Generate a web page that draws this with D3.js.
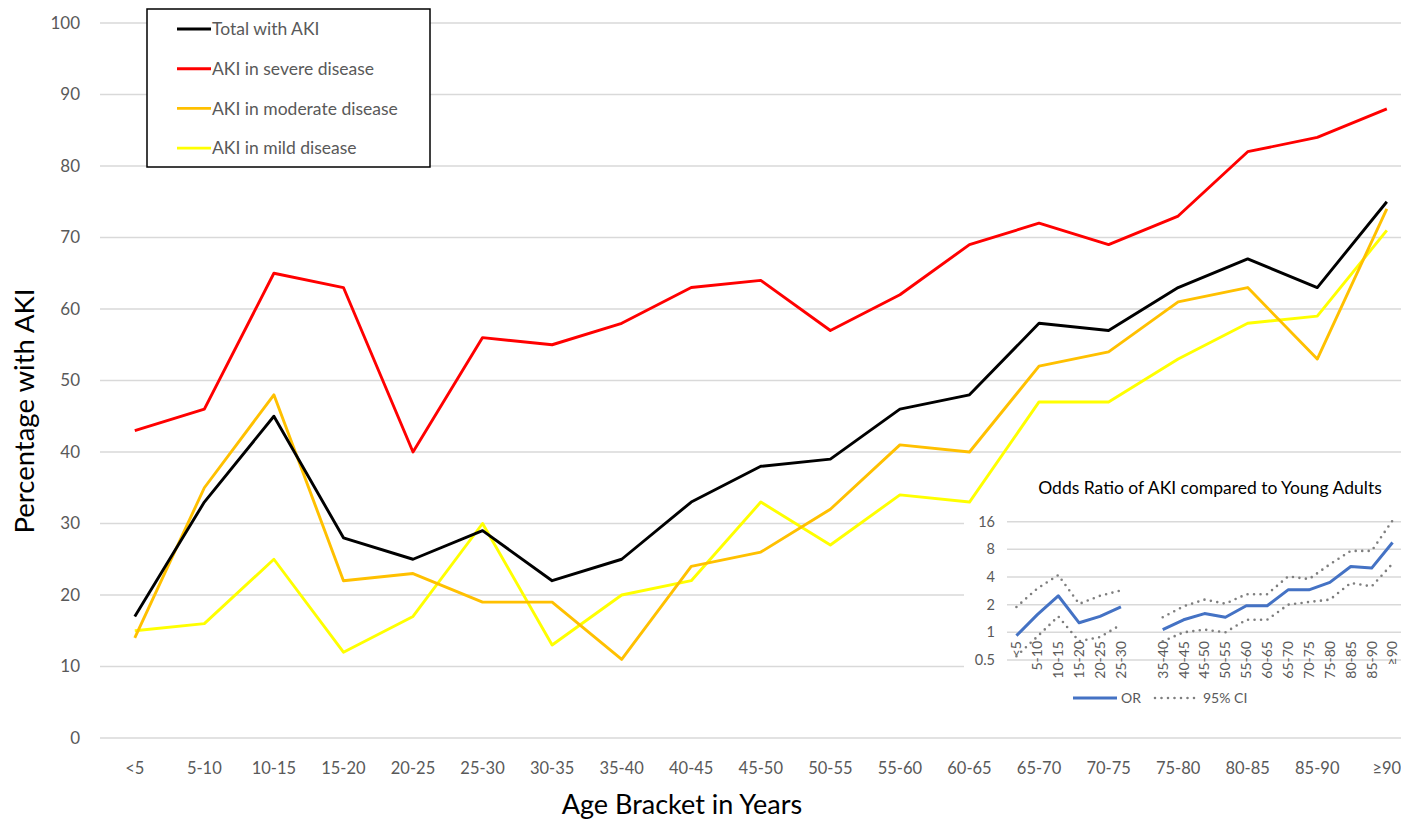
<!DOCTYPE html>
<html>
<head>
<meta charset="utf-8">
<script src="https://cdn.jsdelivr.net/npm/d3@7"></script>
<style>
  body { margin: 0; background: white; }
  text { font-family: Lato, "Open Sans", sans-serif; }
</style>
</head>
<body>
<svg id="chart" width="1401" height="822"></svg>
<script>
// age brackets, shared by both charts
const ages = ['<5', '5-10', '10-15', '15-20', '20-25', '25-30', '30-35', '35-40', '40-45', '45-50',
    '50-55', '55-60', '60-65', '65-70', '70-75', '75-80', '80-85', '85-90', '≥90']

const totalAki = [17, 33, 45, 28, 25, 29, 22, 25, 33, 38, 39, 46, 48, 58, 57, 63, 67, 63, 75]
const severeAki = [43, 46, 65, 63, 40, 56, 55, 58, 63, 64, 57, 62, 69, 72, 69, 73, 82, 84, 88]
const moderateAki = [14, 35, 48, 22, 23, 19, 19, 11, 24, 26, 32, 41, 40, 52, 54, 61, 63, 53, 74]
const mildAki = [15, 16, 25, 12, 17, 30, 13, 20, 22, 33, 27, 34, 33, 47, 47, 53, 58, 59, 71]

const yTicks = [0, 10, 20, 30, 40, 50, 60, 70, 80, 90, 100]

// odds ratio inset (30-35 is the reference group, so no value)
const oddsRatio = [0.92, 1.56, 2.5, 1.27, 1.49, 1.89, null, 1.07, 1.37, 1.6, 1.46, 1.95, 1.95, 2.9, 2.9, 3.5, 5.2, 5.0, 9.5]
const ciUpper = [1.89, 3.0, 4.2, 2.04, 2.5, 2.86, null, 1.46, 1.92, 2.27, 2.05, 2.6, 2.6, 4.06, 3.8, 5.5, 7.7, 7.7, 16.5]
const ciLower = [0.55, 0.9, 1.49, 0.8, 0.89, 1.21, null, 0.8, 1.0, 1.07, 1.0, 1.37, 1.37, 2.0, 2.14, 2.27, 3.45, 3.16, 5.6]
const orTicks = [0.5, 1, 2, 4, 8, 16]

const series = [
    {name: 'Total with AKI', values: totalAki, color: '#000000'},
    {name: 'AKI in severe disease', values: severeAki, color: '#FF0000'},
    {name: 'AKI in moderate disease', values: moderateAki, color: '#FFC000'},
    {name: 'AKI in mild disease', values: mildAki, color: '#FFFF00'},
]

const svg = d3.select('#chart')

const x = d3.scaleBand().domain(ages).range([100, 1421.6])
const y = d3.scaleLinear().domain([0, 100]).range([738, 23])

// gridlines + y labels
svg.append('g')
    .selectAll('line')
    .data(yTicks)
    .enter()
    .append('line')
    .attr('x1', 100)
    .attr('x2', 1401)
    .attr('y1', d => y(d))
    .attr('y2', d => y(d))
    .attr('stroke', '#d9d9d9')
    .attr('stroke-width', 1.5)

svg.append('g')
    .selectAll('text')
    .data(yTicks)
    .enter()
    .append('text')
    .text(d => d)
    .attr('x', 80)
    .attr('y', d => y(d))
    .attr('dy', '0.35em')
    .attr('text-anchor', 'end')
    .attr('font-size', 17)
    .attr('fill', '#595959')

svg.append('g')
    .selectAll('text')
    .data(ages)
    .enter()
    .append('text')
    .text(d => d)
    .attr('x', d => x(d) + x.bandwidth() / 2)
    .attr('y', 768)
    .attr('dy', '0.35em')
    .attr('text-anchor', 'middle')
    .attr('font-size', 16.5)
    .attr('fill', '#595959')

svg.append('text')
    .text('Age Bracket in Years')
    .attr('x', 682)
    .attr('y', 805)
    .attr('dy', '0.35em')
    .attr('text-anchor', 'middle')
    .attr('font-size', 27)
    .attr('fill', '#000')

svg.append('text')
    .text('Percentage with AKI')
    .attr('transform', 'translate(24 411) rotate(-90)')
    .attr('dy', '0.35em')
    .attr('text-anchor', 'middle')
    .attr('font-size', 27.5)
    .attr('fill', '#000')

const line = d3.line()
    .x((d, i) => x(ages[i]) + x.bandwidth() / 2)
    .y(d => y(d))

// draw mild first so black ends up on top like the original
series.slice().reverse().forEach(s => {
    svg.append('path')
        .attr('d', line(s.values))
        .attr('fill', 'none')
        .attr('stroke', s.color)
        .attr('stroke-width', 2.9)
        .attr('stroke-linejoin', 'round')
})

// legend
svg.append('rect')
    .attr('x', 147)
    .attr('y', 9)
    .attr('width', 283)
    .attr('height', 158)
    .attr('fill', 'white')
    .attr('stroke', 'black')
    .attr('stroke-width', 1.5)

series.forEach((s, i) => {
    const ly = 29 + i * 39.7
    svg.append('line')
        .attr('x1', 177)
        .attr('x2', 211)
        .attr('y1', ly)
        .attr('y2', ly)
        .attr('stroke', s.color)
        .attr('stroke-width', 2.9)
    svg.append('text')
        .text(s.name)
        .attr('x', 212)
        .attr('y', ly)
        .attr('dy', '0.35em')
        .attr('font-size', 17.5)
        .attr('fill', '#595959')
})

// ---- inset: odds ratio ----
const inset = svg.append('g')

inset.append('rect')
    .attr('x', 964)
    .attr('y', 506)
    .attr('width', 437)
    .attr('height', 210)
    .attr('fill', 'white')

inset.append('text')
    .text('Odds Ratio of AKI compared to Young Adults')
    .attr('x', 1210)
    .attr('y', 488)
    .attr('dy', '0.35em')
    .attr('text-anchor', 'middle')
    .attr('font-size', 17.5)
    .attr('fill', '#000')

const ix = d3.scaleBand().domain(ages).range([1006, 1403])
const iy = d3.scaleLog().base(2).domain([0.5, 16]).range([660, 521.7])

inset.append('g')
    .selectAll('line')
    .data(orTicks)
    .enter()
    .append('line')
    .attr('x1', 1007)
    .attr('x2', 1401)
    .attr('y1', d => iy(d))
    .attr('y2', d => iy(d))
    .attr('stroke', '#d9d9d9')
    .attr('stroke-width', 1.5)

inset.append('g')
    .selectAll('text')
    .data(orTicks)
    .enter()
    .append('text')
    .text(d => d)
    .attr('x', 995)
    .attr('y', d => iy(d))
    .attr('dy', '0.35em')
    .attr('text-anchor', 'end')
    .attr('font-size', 14.5)
    .attr('fill', '#595959')

// the reference group has no label on the inset axis
inset.append('g')
    .selectAll('text')
    .data(ages.filter((d, i) => oddsRatio[i] !== null))
    .enter()
    .append('text')
    .text(d => d)
    .attr('transform', d => `translate(${ix(d) + ix.bandwidth() / 2} 641) rotate(-90)`)
    .attr('dy', '0.35em')
    .attr('text-anchor', 'end')
    .attr('font-size', 14)
    .attr('fill', '#595959')

const iline = d3.line()
    .defined(d => d !== null)
    .x((d, i) => ix(ages[i]) + ix.bandwidth() / 2)
    .y(d => iy(d))

;[ciUpper, ciLower].forEach(ci => {
    inset.append('path')
        .attr('d', iline(ci))
        .attr('fill', 'none')
        .attr('stroke', '#7f7f7f')
        .attr('stroke-width', 2.6)
        .attr('stroke-linecap', 'round')
        .attr('stroke-dasharray', '0 6.5')
})

inset.append('path')
    .attr('d', iline(oddsRatio))
    .attr('fill', 'none')
    .attr('stroke', '#4472C4')
    .attr('stroke-width', 3)
    .attr('stroke-linejoin', 'round')

// inset legend
inset.append('line')
    .attr('x1', 1073).attr('x2', 1117)
    .attr('y1', 698).attr('y2', 698)
    .attr('stroke', '#4472C4')
    .attr('stroke-width', 3)
inset.append('text')
    .text('OR')
    .attr('x', 1121).attr('y', 698)
    .attr('dy', '0.35em')
    .attr('font-size', 14)
    .attr('fill', '#595959')
inset.append('line')
    .attr('x1', 1155).attr('x2', 1195)
    .attr('y1', 698).attr('y2', 698)
    .attr('stroke', '#7f7f7f')
    .attr('stroke-width', 2.6)
    .attr('stroke-linecap', 'round')
    .attr('stroke-dasharray', '0 6.5')
inset.append('text')
    .text('95% CI')
    .attr('x', 1203).attr('y', 698)
    .attr('dy', '0.35em')
    .attr('font-size', 14)
    .attr('fill', '#595959')
</script>
</body>
</html>
